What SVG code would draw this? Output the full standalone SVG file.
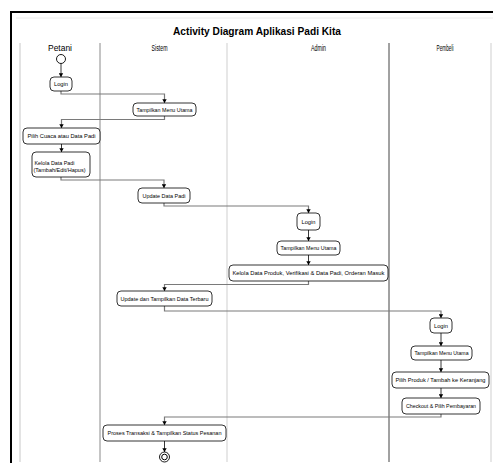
<svg xmlns="http://www.w3.org/2000/svg" width="493" height="463" viewBox="0 0 493 463">
<style>
.lbl{font-family:"Liberation Sans",Arial,sans-serif;fill:#000}
.title{font-size:10px;font-weight:bold}
.lane{font-size:8.5px}
.t{font-size:6px;text-anchor:middle}
.tl{font-size:6px}
.box{fill:#fff;stroke:#000;stroke-width:0.8}
.conn{fill:none;stroke:#7a7a7a;stroke-width:1.2}
.conn2{fill:none;stroke:#222;stroke-width:0.9}
</style>
<defs>
<marker id="ah" markerWidth="5" markerHeight="5" refX="2.5" refY="4.5" orient="0" markerUnits="userSpaceOnUse">
<path d="M0.3,0.8 L4.7,0.8 L2.5,4.5 Z" fill="#000"/>
</marker>
</defs>
<rect x="0" y="0" width="493" height="463" fill="#fff"/>
<g id="frame">
<line x1="16" y1="18" x2="493" y2="18" stroke="#ececec" stroke-width="1"/>
<line x1="11" y1="12" x2="493" y2="12" stroke="#000" stroke-width="2"/>
<line x1="11" y1="11" x2="11" y2="463" stroke="#000" stroke-width="2"/>
</g>
<text class="lbl title" x="173" y="35" textLength="168" lengthAdjust="spacingAndGlyphs">Activity Diagram Aplikasi Padi Kita</text>
<g id="lanes">
<line x1="20" y1="43" x2="20" y2="462" stroke="#c8c8c8" stroke-width="1"/>
<line x1="100" y1="43" x2="100" y2="462" stroke="#8a8a8a" stroke-width="1"/>
<line x1="227" y1="43" x2="227" y2="462" stroke="#cfcfcf" stroke-width="1"/>
<line x1="389" y1="43" x2="389" y2="462" stroke="#444" stroke-width="1"/>
<line x1="491" y1="43" x2="491" y2="462" stroke="#cfcfcf" stroke-width="1"/>
<text class="lbl lane" x="48" y="51" textLength="24" lengthAdjust="spacingAndGlyphs">Petani</text>
<text class="lbl lane" x="151.5" y="51" textLength="16" lengthAdjust="spacingAndGlyphs">Sistem</text>
<text class="lbl lane" x="311" y="51" textLength="15" lengthAdjust="spacingAndGlyphs">Admin</text>
<text class="lbl lane" x="436.5" y="51" textLength="17" lengthAdjust="spacingAndGlyphs">Pembeli</text>
</g>
<g id="connectors">
<path class="conn2" d="M61,63.5 V77" marker-end="url(#ah)"/>
<path class="conn" d="M61,91 V94 H164.5 V103" marker-end="url(#ah)"/>
<path class="conn" d="M164.5,116 V119.5 H61.5 V128" marker-end="url(#ah)"/>
<path class="conn2" d="M61.5,144 V152" marker-end="url(#ah)"/>
<path class="conn" d="M61,177 V180 H164 V188" marker-end="url(#ah)"/>
<path class="conn" d="M164,203 V206 H308.5 V213" marker-end="url(#ah)"/>
<path class="conn2" d="M308.5,230 V241" marker-end="url(#ah)"/>
<path class="conn2" d="M308.5,255 V265" marker-end="url(#ah)"/>
<path class="conn" d="M308.5,281 V284.5 H164.5 V291" marker-end="url(#ah)"/>
<path class="conn" d="M164.5,306 V311 H441 V318" marker-end="url(#ah)"/>
<path class="conn2" d="M441,333 V346" marker-end="url(#ah)"/>
<path class="conn2" d="M441,360 V372" marker-end="url(#ah)"/>
<path class="conn2" d="M441,388 V398" marker-end="url(#ah)"/>
<path class="conn" d="M441,414 V417 H164.5 V425" marker-end="url(#ah)"/>
<path class="conn2" d="M164.5,441 V452" marker-end="url(#ah)"/>
</g>
<g id="start"><circle cx="61" cy="59" r="4.5" fill="#fff" stroke="#000" stroke-width="0.9"/></g>
<g id="petani-login"><rect class="box" x="50" y="77" width="22" height="14" rx="4"/><text class="lbl t" x="61" y="86" textLength="14" lengthAdjust="spacingAndGlyphs">Login</text></g>
<g id="sistem-menu"><rect class="box" x="133" y="103" width="63" height="13" rx="4"/><text class="lbl t" x="164.5" y="111.5" textLength="56" lengthAdjust="spacingAndGlyphs">Tampilkan Menu Utama</text></g>
<g id="petani-pilih"><rect class="box" x="23" y="128" width="77" height="16" rx="4"/><text class="lbl t" x="61.5" y="138" textLength="68" lengthAdjust="spacingAndGlyphs">Pilih Cuaca atau Data Padi</text></g>
<g id="petani-kelola"><rect class="box" x="32" y="152" width="58" height="25" rx="4"/><text class="lbl tl" x="34.5" y="164.5" textLength="40" lengthAdjust="spacingAndGlyphs">Kelola Data Padi</text><text class="lbl tl" x="33.5" y="171.5" textLength="52" lengthAdjust="spacingAndGlyphs">(Tambah/Edit/Hapus)</text></g>
<g id="sistem-update"><rect class="box" x="138" y="188" width="52" height="15" rx="4"/><text class="lbl t" x="164" y="197.5" textLength="43" lengthAdjust="spacingAndGlyphs">Update Data Padi</text></g>
<g id="admin-login"><rect class="box" x="297" y="213" width="23" height="17" rx="4"/><text class="lbl t" x="308.5" y="223.5" textLength="14" lengthAdjust="spacingAndGlyphs">Login</text></g>
<g id="admin-menu"><rect class="box" x="277" y="241" width="63" height="14" rx="4"/><text class="lbl t" x="308.5" y="250" textLength="56" lengthAdjust="spacingAndGlyphs">Tampilkan Menu Utama</text></g>
<g id="admin-kelola"><rect class="box" x="229" y="265" width="159" height="16" rx="4"/><text class="lbl t" x="308.5" y="275" textLength="152" lengthAdjust="spacingAndGlyphs">Kelola Data Produk, Verifikasi &amp; Data Padi, Orderan Masuk</text></g>
<g id="sistem-update2"><rect class="box" x="117" y="291" width="95" height="15" rx="4"/><text class="lbl t" x="164.5" y="300.5" textLength="88" lengthAdjust="spacingAndGlyphs">Update dan Tampilkan Data Terbaru</text></g>
<g id="pembeli-login"><rect class="box" x="430" y="318" width="22" height="15" rx="4"/><text class="lbl t" x="441" y="327.5" textLength="14" lengthAdjust="spacingAndGlyphs">Login</text></g>
<g id="pembeli-menu"><rect class="box" x="411" y="346" width="61" height="14" rx="4"/><text class="lbl t" x="441.5" y="355" textLength="54" lengthAdjust="spacingAndGlyphs">Tampilkan Menu Utama</text></g>
<g id="pembeli-pilih"><rect class="box" x="392" y="372" width="97" height="16" rx="4"/><text class="lbl t" x="440.5" y="382" textLength="90" lengthAdjust="spacingAndGlyphs">Pilih Produk / Tambah ke Keranjang</text></g>
<g id="pembeli-checkout"><rect class="box" x="402" y="398" width="78" height="16" rx="4"/><text class="lbl t" x="441" y="408" textLength="70" lengthAdjust="spacingAndGlyphs">Checkout &amp; Pilih Pembayaran</text></g>
<g id="sistem-proses"><rect class="box" x="103" y="425" width="123" height="16" rx="4"/><text class="lbl t" x="164.5" y="435" textLength="114" lengthAdjust="spacingAndGlyphs">Proses Transaksi &amp; Tampilkan Status Pesanan</text></g>
<g id="end"><circle cx="164.5" cy="457" r="5" fill="#fff" stroke="#000" stroke-width="0.9"/><circle cx="164.5" cy="457" r="2.8" fill="#fff" stroke="#000" stroke-width="1"/></g>
</svg>
